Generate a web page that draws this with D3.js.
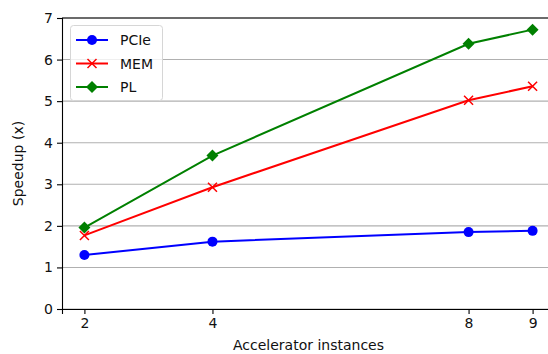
<!DOCTYPE html>
<html>
<head>
<meta charset="utf-8">
<script src="https://cdn.jsdelivr.net/npm/d3@7"></script>
<style>
  html, body { margin: 0; padding: 0; background: #fff; }
  svg { display: block; font-family: "DejaVu Sans", sans-serif; }
</style>
</head>
<body>
<svg id="chart" width="548" height="354"></svg>
<script>
// Accelerator instance counts and measured speedups per interconnect
const instances = [2, 4, 8, 9];
const pcie = [1.30, 1.62, 1.85, 1.88];
const mem = [1.77, 2.93, 5.02, 5.36];
const pl = [1.96, 3.69, 6.38, 6.72];
const yTicks = [0, 1, 2, 3, 4, 5, 6, 7];

const series = [
  { name: "PCIe", values: pcie, color: "#0000ff", marker: "circle" },
  { name: "MEM", values: mem, color: "#ff0000", marker: "x" },
  { name: "PL", values: pl, color: "#008000", marker: "diamond" }
];

const FONT = "14px";
const TEXT = "#111";

const svg = d3.select("#chart");
const margin = { left: 62, top: 18, right: -7, bottom: 45 };
const W = 548, H = 354;
const x = d3.scaleLinear().domain([1.65, 9.35]).range([margin.left, W - margin.right]);
const y = d3.scaleLinear().domain([0, 7]).range([H - margin.bottom, margin.top]);

// horizontal grid
svg.append("g").selectAll("line").data(yTicks).join("line")
  .attr("x1", margin.left).attr("x2", W - margin.right)
  .attr("y1", d => y(d)).attr("y2", d => y(d))
  .attr("stroke", "#b0b0b0").attr("stroke-width", 1.1);

// axes
const xAxis = svg.append("g").attr("transform", `translate(0,${y(0)})`)
  .call(d3.axisBottom(x).tickValues(instances).tickSize(5).tickPadding(4).tickFormat(d3.format("d")));
const yAxis = svg.append("g").attr("transform", `translate(${margin.left},0)`)
  .call(d3.axisLeft(y).tickValues(yTicks).tickSize(5).tickPadding(4).tickFormat(d3.format("d")));
[xAxis, yAxis].forEach(g => {
  g.select(".domain").attr("stroke", "#000").attr("stroke-width", 1.1);
  g.selectAll(".tick line").attr("stroke", "#000").attr("stroke-width", 1.1);
  g.selectAll(".tick text").attr("fill", TEXT).style("font-size", FONT)
    .style("font-family", "'DejaVu Sans', sans-serif");
});
// top spine
svg.append("line").attr("x1", margin.left).attr("x2", W - margin.right)
  .attr("y1", y(7)).attr("y2", y(7)).attr("stroke", "#000").attr("stroke-width", 1.1);

// axis titles
svg.append("text").attr("x", (margin.left + W - margin.right) / 2).attr("y", 350)
  .attr("text-anchor", "middle").style("font-size", FONT).attr("fill", TEXT)
  .text("Accelerator instances");
svg.append("text").attr("transform", `translate(23,${(y(0) + y(7)) / 2}) rotate(-90)`)
  .attr("text-anchor", "middle").style("font-size", FONT).attr("fill", TEXT)
  .text("Speedup (x)");

function drawMarker(g, type, color, cx, cy) {
  if (type === "circle") {
    g.append("circle").attr("cx", cx).attr("cy", cy).attr("r", 5).attr("fill", color);
  } else if (type === "diamond") {
    const s = 6;
    g.append("path").attr("d", `M${cx},${cy - s}L${cx + s},${cy}L${cx},${cy + s}L${cx - s},${cy}Z`)
      .attr("fill", color);
  } else {
    const s = 4.5;
    g.append("path").attr("d", `M${cx - s},${cy - s}L${cx + s},${cy + s}M${cx - s},${cy + s}L${cx + s},${cy - s}`)
      .attr("stroke", color).attr("stroke-width", 1.5).attr("fill", "none");
  }
}

const line = d3.line().x(d => x(d[0])).y(d => y(d[1]));
series.forEach(s => {
  const pts = instances.map((v, i) => [v, s.values[i]]);
  const g = svg.append("g");
  g.append("path").attr("d", line(pts)).attr("fill", "none")
    .attr("stroke", s.color).attr("stroke-width", 2);
  pts.forEach(p => drawMarker(g, s.marker, s.color, x(p[0]), y(p[1])));
});

// legend
const lg = svg.append("g");
lg.append("rect").attr("x", 70.5).attr("y", 25.5).attr("width", 92).attr("height", 75)
  .attr("rx", 3).attr("fill", "#fff").attr("fill-opacity", 0.8).attr("stroke", "#d6d6d6");
series.forEach((s, i) => {
  const cy = 40 + i * 23.5;
  lg.append("line").attr("x1", 76).attr("x2", 108).attr("y1", cy).attr("y2", cy)
    .attr("stroke", s.color).attr("stroke-width", 2);
  drawMarker(lg, s.marker, s.color, 92, cy);
  lg.append("text").attr("x", 120).attr("y", cy + 5).style("font-size", FONT)
    .attr("fill", TEXT).text(s.name);
});
</script>
</body>
</html>
